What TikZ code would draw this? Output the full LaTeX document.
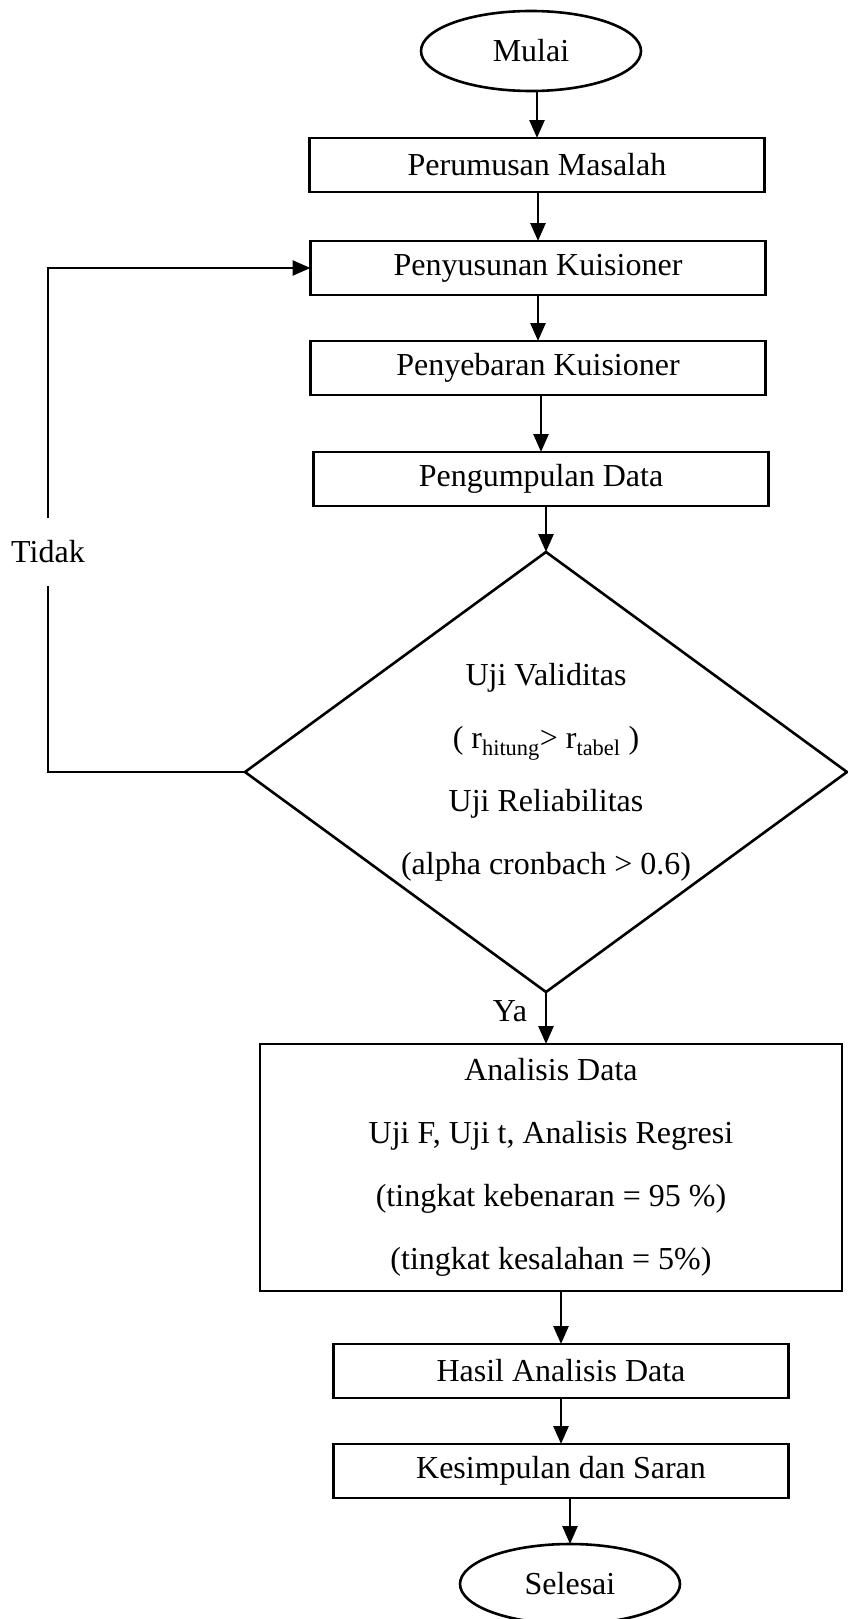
\documentclass[tikz,border=0pt]{standalone}
\usepackage{fontspec}
\setmainfont{Liberation Serif}
\usetikzlibrary{positioning, shapes, arrows.meta}

\begin{document}
\begin{tikzpicture}[x=1pt, y=-1pt,
font=\fontsize{32}{63}\selectfont,
line width=2.6pt,
outer sep=0pt,
kotak/.style={
  rectangle, draw,
  minimum width=455pt, minimum height=54pt,
  inner sep=0pt
},
kotakbesar/.style={
  rectangle, draw,
  minimum width=582pt, minimum height=247pt,
  align=center
},
elips/.style={
  ellipse, draw,
  minimum width=220pt, minimum height=80pt,
  inner sep=0pt
},
belah/.style={
  diamond, draw,
  minimum width=602pt, minimum height=440pt,
  inner sep=0pt
},
teks/.style={inner sep=0pt, align=center},
panah/.style={-{Triangle[length=18pt, width=15pt]}}
]
\useasboundingbox (0,0) rectangle (847,1619);

\node (mulai) [elips] at (531,51) {Mulai};
\node (rumus) [kotak, below=47pt of mulai, xshift=6pt] {Perumusan Masalah};
\node (susun) [kotak, below=49pt of rumus, xshift=1pt] {Penyusunan Kuisioner};
\node (sebar) [kotak, below=46pt of susun] {Penyebaran Kuisioner};
\node (kumpul) [kotak, below=57pt of sebar, xshift=3pt] {Pengumpulan Data};
\node (uji) [belah, below=46pt of kumpul, xshift=5pt] {};
\node (ujiket) [teks] at (uji) {
  Uji Validitas\\
  ( r\textsubscript{hitung}> r\textsubscript{tabel} )\\
  Uji Reliabilitas\\
  (alpha cronbach > 0.6)
};
\node (analisis) [kotakbesar, below=52pt of uji, xshift=5pt] {
  Analisis Data\\
  Uji F, Uji t, Analisis Regresi\\
  (tingkat kebenaran = 95 \%)\\
  (tingkat kesalahan = 5\%)
};
\node (hasil) [kotak, below=53pt of analisis, xshift=10pt] {Hasil Analisis Data};
\node (simpul) [kotak, below=46pt of hasil] {Kesimpulan dan Saran};
\node (selesai) [elips, below=46pt of simpul, xshift=9pt] {Selesai};

\node (tidak) [teks, minimum height=68pt] at (48,552) {Tidak};
\node (ya) [teks, below left=9pt and 19pt of uji.south] {Ya};

\draw[panah] (mulai.south -| rumus.north) -- (rumus.north);
\draw[panah] (rumus.south -| susun.north) -- (susun.north);
\draw[panah] (susun.south -| sebar.north) -- (sebar.north);
\draw[panah] (sebar.south -| kumpul.north) -- (kumpul.north);
\draw[panah] (kumpul.south -| uji.north) -- (uji.north);
\draw[panah] (uji.south) -- (uji.south |- analisis.north);
\draw[panah] (analisis.south -| hasil.north) -- (hasil.north);
\draw[panah] (hasil.south -| simpul.north) -- (simpul.north);
\draw[panah] (simpul.south -| selesai.north) -- (selesai.north);

\draw (uji.west) -| (tidak.south);
\draw[panah] (tidak.north) |- (susun.west);
\end{tikzpicture}
\end{document}
